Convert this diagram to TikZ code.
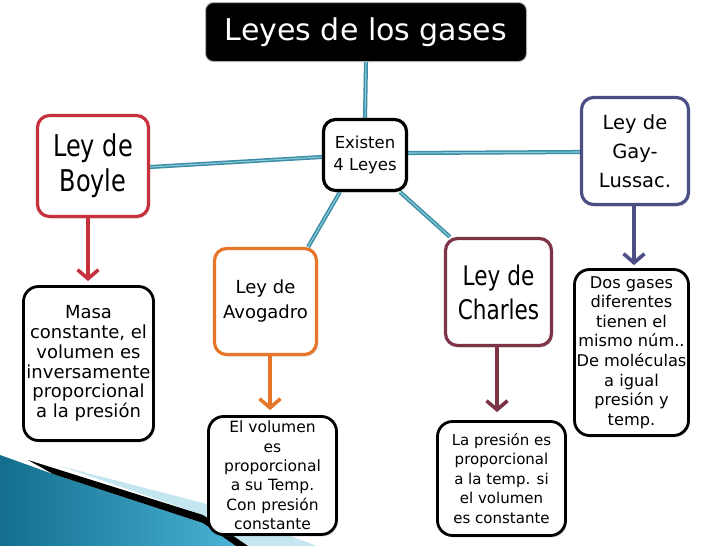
\documentclass[tikz,border=0pt]{standalone}
\usepackage{fontspec}
\setmainfont{DejaVu Sans}
\newfontfamily\condfont[FakeStretch=0.8]{DejaVu Sans}
\usetikzlibrary{arrows.meta,shadows,backgrounds}
\definecolor{boylec}{HTML}{C7303D}
\definecolor{avogc}{HTML}{E5762A}
\definecolor{charc}{HTML}{7C3446}
\definecolor{gayc}{HTML}{4B4F86}
\definecolor{linkc}{HTML}{3A8DA4}
\definecolor{linkl}{HTML}{8CCBDC}
\definecolor{swdark}{HTML}{136E8E}
\definecolor{swlight}{HTML}{49B2D4}
\definecolor{swpale}{HTML}{C4E6F0}
\tikzset{
  shad/.style={drop shadow={opacity=0.25,shadow xshift=1.5pt,shadow yshift=-2pt}},
  lawbox/.style={draw=#1, line width=3.2pt, fill=white, rounded corners=12pt,
    align=center, inner sep=1pt, shad},
  txtbox/.style={draw=black, line width=2.8pt, fill=white, rounded corners=15pt,
    align=center, inner sep=1pt, shad},
  titlebox/.style={fill=black, draw=gray!60, line width=1pt, rounded corners=8pt,
    text=white, align=center, inner sep=1pt},
  link/.style={draw=linkc, double=linkl, double distance=1.1pt, line width=1.5pt},
  arr/.style={draw=#1, line width=3.6pt, -{Straight Barb[length=9pt,width=21pt]}},
}
\begin{document}
\begin{tikzpicture}[x=1pt,y=-1pt]
\useasboundingbox (0,0) rectangle (728,546);

% nodes
\node[titlebox, minimum width=321pt, minimum height=59pt,
  font=\fontsize{30}{32}\selectfont] (title) at (366,32) {Leyes de los gases};
\node[lawbox=black, minimum width=83pt, minimum height=71pt,
  font=\fontsize{16.5}{22}\selectfont] (exist) at (365,155) {Existen\\4 Leyes};
\node[lawbox=boylec, minimum width=111pt, minimum height=101pt,
  font=\condfont\fontsize{30}{35}\selectfont] (boyle) at (93,166) {Ley de\\Boyle};
\node[lawbox=gayc, minimum width=107pt, minimum height=107pt,
  font=\fontsize{19.5}{29}\selectfont] (gay) at (635,151) {Ley de\\Gay-\\Lussac.};
\node[lawbox=avogc, minimum width=102pt, minimum height=106pt,
  font=\fontsize{18}{25}\selectfont] (avog) at (265.5,301.5) {Ley de\\Avogadro};
\node[lawbox=charc, minimum width=106pt, minimum height=107pt,
  font=\condfont\fontsize{27}{34}\selectfont] (charles) at (498.5,292) {Ley de\\Charles};

\node[txtbox, minimum width=130pt, minimum height=154pt,
  font=\fontsize{18}{19.8}\selectfont] (tboyle) at (88.5,363.5)
  {Masa\\constante, el\\volumen es\\inversamente\\proporcional\\a la presión};
\node[txtbox, minimum width=128pt, minimum height=118pt,
  font=\fontsize{15.5}{19.4}\selectfont] (tavog) at (272.5,475.5)
  {El volumen\\es\\proporcional\\a su Temp.\\Con presión\\constante};
\node[txtbox, minimum width=128pt, minimum height=114pt,
  font=\fontsize{15}{19.5}\selectfont] (tchar) at (501.5,478.5)
  {La presión es\\proporcional\\a la temp. si\\el volumen\\es constante};
\node[txtbox, minimum width=114pt, minimum height=166pt,
  font=\fontsize{16.2}{19.6}\selectfont] (tgay) at (631.5,352.5)
  {Dos gases\\diferentes\\tienen el\\mismo núm..\\De moléculas\\a igual\\presión y\\temp.};

\begin{pgfonlayer}{background}
  \fill[white] (0,0) rectangle (728,546);
  % decorative swoosh
  \shade[left color=swdark, right color=swlight]
    (0,455) -- (53,474) -- (203,523) -- (236,546) -- (0,546) -- cycle;
  \fill[swpale] (60,466) -- (203,503) -- (317,546) -- (248,546) -- (203,515) -- cycle;
  \fill[black] (28,460) -- (203,515) -- (248,546) -- (236,546) -- (203,523) -- (53,474) -- cycle;
  % connectors
  \draw[link] (title.south) -- (exist.north);
  \draw[link] ([yshift=-2pt]exist.west) -- ([yshift=-1pt]boyle.east);
  \draw[link] ([yshift=2pt]exist.east) -- ([yshift=-1pt]gay.west);
  \draw[link] ([xshift=18pt]exist.south west) -- ([xshift=-10pt]avog.north east);
  \draw[link] ([xshift=-8pt]exist.south east) -- ([xshift=6pt]charles.north west);
\end{pgfonlayer}

% arrows
\draw[arr=boylec] ([xshift=-5pt]boyle.south) -- ([xshift=-0.5pt,yshift=4pt]tboyle.north);
\draw[arr=avogc] ([xshift=4.5pt]avog.south) -- ([xshift=-2.5pt,yshift=5pt]tavog.north);
\draw[arr=charc] ([xshift=-1.5pt]charles.south) -- ([xshift=-4.5pt,yshift=8pt]tchar.north);
\draw[arr=gayc] ([xshift=-1pt]gay.south) -- ([xshift=2.5pt,yshift=3pt]tgay.north);
\end{tikzpicture}
\end{document}
